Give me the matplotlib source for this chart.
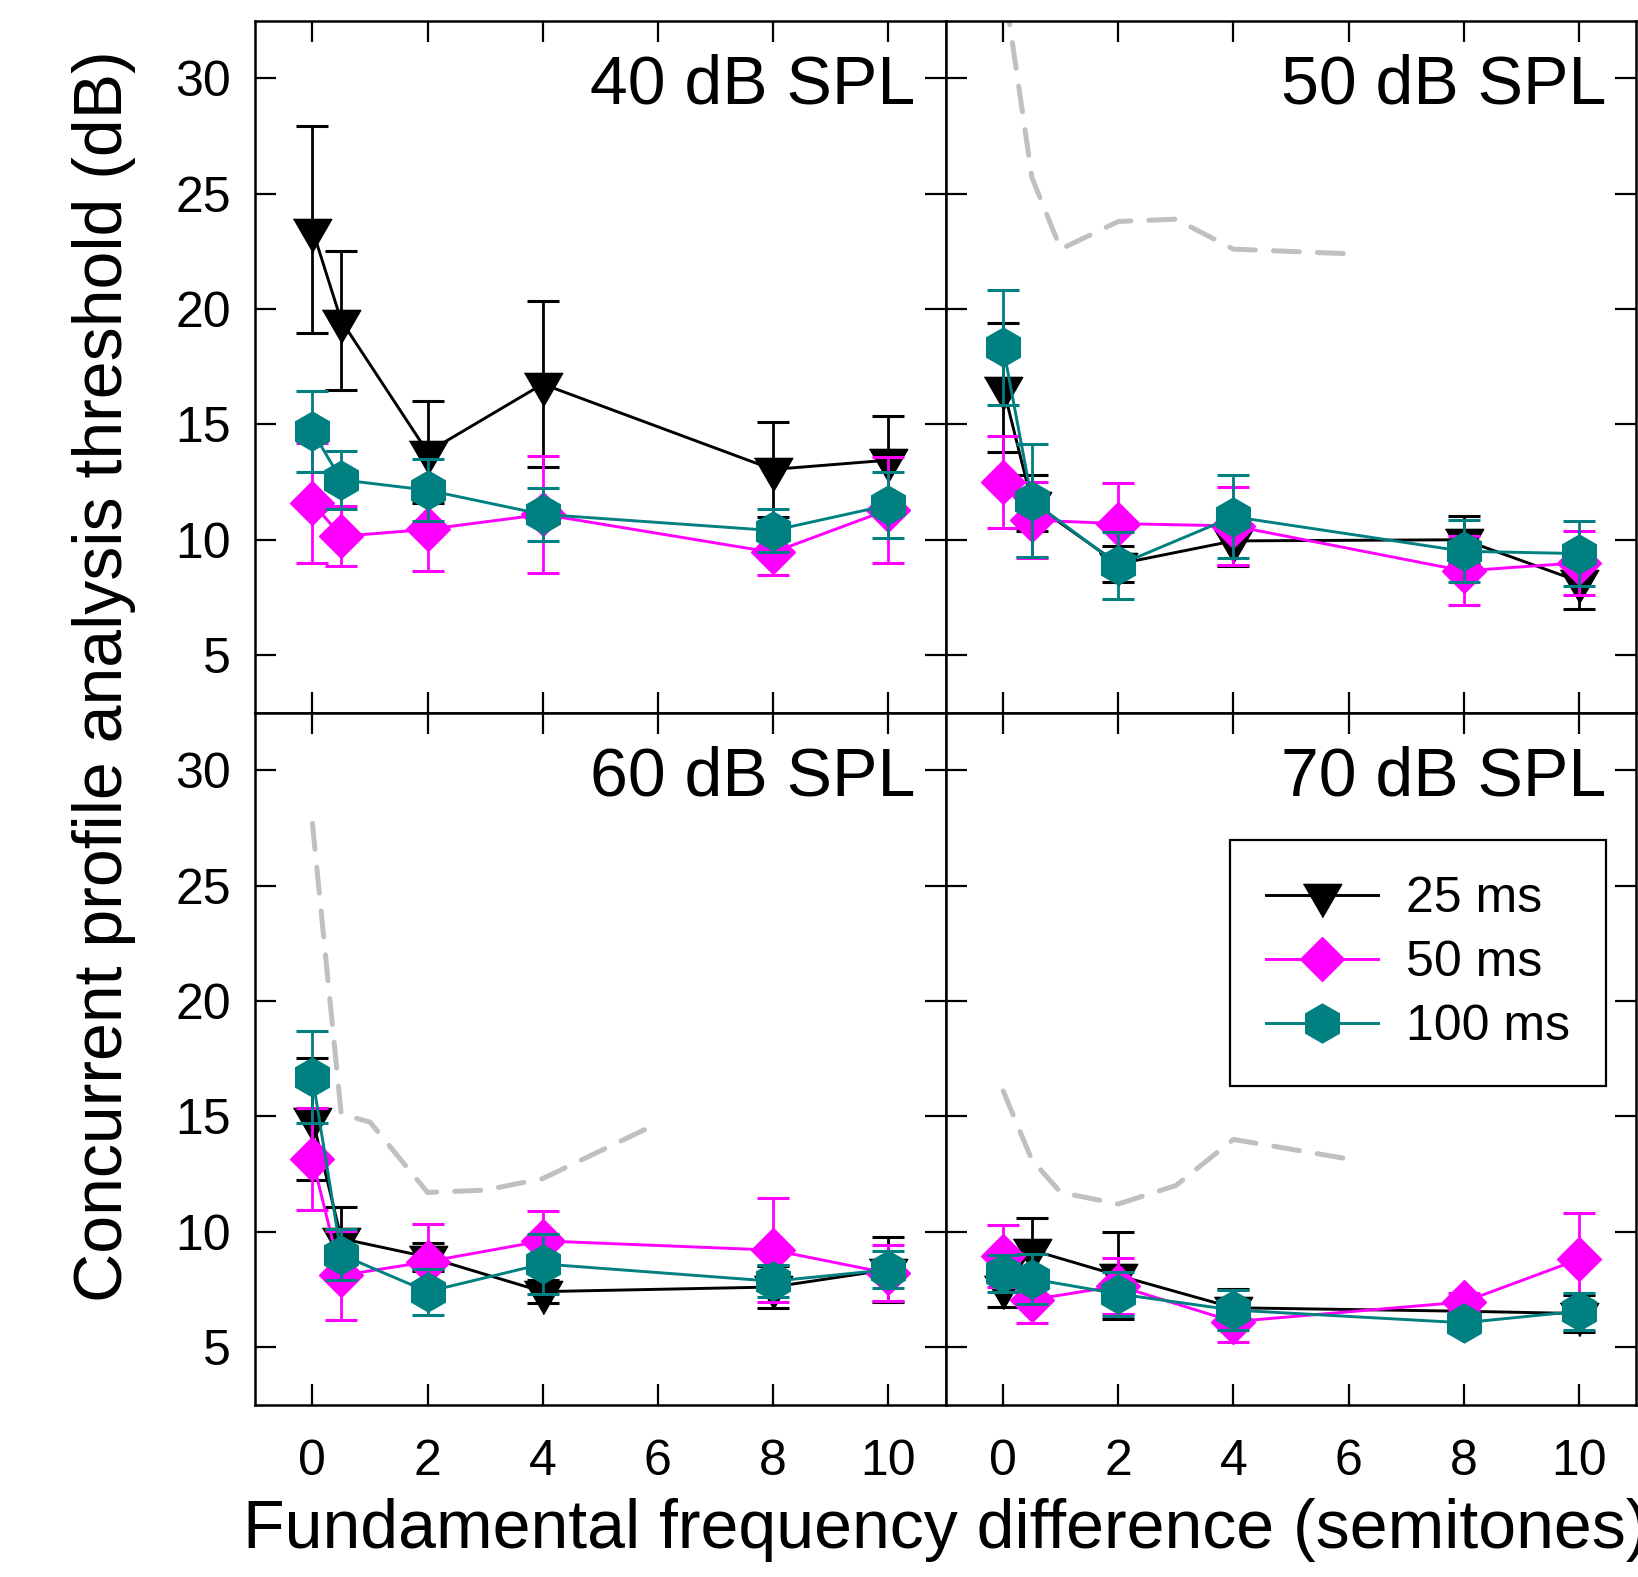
#!/usr/bin/env python3
"""Concurrent profile analysis thresholds vs F0 difference, 4 level panels."""

import matplotlib

matplotlib.use("Agg")
import matplotlib.pyplot as plt

plt.rcParams["font.family"] = ["Liberation Sans", "DejaVu Sans"]

F0_DIFF = [0, 0.5, 2, 4, 8, 10]
LEVELS = ["40 dB SPL", "50 dB SPL", "60 dB SPL", "70 dB SPL"]
DURATIONS = ["25 ms", "50 ms", "100 ms"]

# one row per level (40, 50, 60, 70 dB SPL)
MEAN_25 = [
    [23.45, 19.5, 13.8, 16.75, 13.05, 13.45],
    [16.6, 11.6, 8.95, 9.95, 10.0, 8.2],
    [14.9, 9.7, 8.9, 7.4, 7.6, 8.35],
    [7.6, 9.2, 8.1, 6.7, 6.55, 6.45],
]
ERR_25 = [
    [4.5, 3.0, 2.2, 3.6, 2.05, 1.9],
    [2.8, 1.2, 0.8, 1.1, 1.05, 1.2],
    [2.65, 1.35, 0.6, 0.5, 0.9, 1.4],
    [0.85, 1.4, 1.9, 0.8, 0.5, 0.8],
]
MEAN_50 = [
    [11.6, 10.15, 10.45, 11.1, 9.45, 11.3],
    [12.5, 10.85, 10.7, 10.6, 8.65, 9.0],
    [13.15, 8.1, 8.7, 9.6, 9.2, 8.2],
    [8.95, 7.05, 7.65, 6.1, 6.95, 8.8],
]
ERR_50 = [
    [2.6, 1.3, 1.8, 2.55, 1.0, 2.3],
    [2.0, 1.65, 1.75, 1.7, 1.5, 1.4],
    [2.2, 1.95, 1.65, 1.3, 2.25, 1.2],
    [1.35, 1.0, 1.2, 0.9, 0.4, 2.0],
]
MEAN_100 = [
    [14.7, 12.6, 12.15, 11.1, 10.4, 11.5],
    [18.35, 11.7, 8.9, 11.0, 9.5, 9.4],
    [16.7, 9.0, 7.4, 8.6, 7.85, 8.35],
    [8.2, 7.95, 7.3, 6.6, 6.05, 6.55],
]
ERR_100 = [
    [1.75, 1.25, 1.35, 1.15, 0.93, 1.42],
    [2.5, 2.45, 1.45, 1.8, 1.35, 1.4],
    [2.0, 1.1, 1.0, 1.3, 0.7, 0.8],
    [0.8, 1.1, 0.95, 0.85, 0.3, 0.8],
]

# grey dashed reference curves (none at 40 dB)
REF_X = [0, 0.5, 1, 2, 3, 4, 6]
REF_Y = [
    None,
    [34.3, 25.7, 22.6, 23.8, 23.9, 22.6, 22.4],
    [27.7, 15.1, 14.75, 11.7, 11.8, 12.3, 14.7],
    [16.1, 13.1, 11.7, 11.2, 12.0, 14.0, 13.15],
]

TRI = [(-1, 0.577), (1, 0.577), (0, -1.155)]  # equilateral, pointing down
SERIES = [
    (MEAN_25, ERR_25, dict(color="black", marker=TRI, ms=32)),
    (MEAN_50, ERR_50, dict(color="#ff00ff", marker="D", ms=22.5)),
    (MEAN_100, ERR_100, dict(color="#008080", marker="h", ms=28)),
]

LEFT = 0.1556
W = (0.999 - LEFT) / 2
BOTTOM = 0.1093
H = (0.9868 - BOTTOM) / 2
POS = [
    (LEFT, BOTTOM + H),
    (LEFT + W, BOTTOM + H),
    (LEFT, BOTTOM),
    (LEFT + W, BOTTOM),
]


def main():
    fig = plt.figure(figsize=(16.38, 15.77), dpi=100)
    fig.patch.set_facecolor("white")

    for p, (x0, y0) in enumerate(POS):
        ax = fig.add_axes([x0, y0, W, H])
        ax.set_xlim(-1, 11)
        ax.set_ylim(2.5, 32.5)
        ax.set_xticks([0, 2, 4, 6, 8, 10])
        ax.set_yticks([5, 10, 15, 20, 25, 30])
        for s in ax.spines.values():
            s.set_linewidth(1.8)
        ax.tick_params(direction="in", length=15, width=1.6, top=True,
                       right=True, labelsize=36)
        ax.tick_params(axis="x", pad=25, labelbottom=p >= 2)
        ax.tick_params(axis="y", pad=17, labelleft=p % 2 == 0)

        if REF_Y[p] is not None:
            ax.plot(REF_X, REF_Y[p], color="#c0c0c0", lw=3.6,
                    dashes=(5.2, 3.6), dash_capstyle="round", zorder=1)

        handles = []
        for k, (means, errs, st) in enumerate(SERIES):
            cont = ax.errorbar(
                F0_DIFF, means[p], yerr=errs[p],
                color=st["color"], marker=st["marker"], ms=st["ms"],
                mec=st["color"], mfc=st["color"], lw=2.1,
                elinewidth=2.0, capsize=11.5, capthick=2.2,
                zorder=3 + k,
            )
            handles.append(cont[0])

        ax.text(0.9566, 0.88, LEVELS[p], transform=ax.transAxes,
                ha="right", va="baseline", fontsize=49)

        if p == 3:
            leg = ax.legend(
                handles, DURATIONS, loc="upper left",
                bbox_to_anchor=(0.411, 0.816), borderaxespad=0,
                fontsize=36, frameon=True, fancybox=False, framealpha=1,
                edgecolor="black", handlelength=2.25, handletextpad=0.55,
                labelspacing=0.36, borderpad=0.72,
            )
            leg.get_frame().set_linewidth(1.6)
            leg.set_zorder(10)

    fig.text(0.0632, 0.571, "Concurrent profile analysis threshold (dB)",
             rotation=90, ha="center", va="center", fontsize=49)
    fig.text(0.5772, 0.0184, "Fundamental frequency difference (semitones)",
             ha="center", va="baseline", fontsize=49)

    fig.savefig("out.png", dpi=100, facecolor="white")
    plt.close(fig)


if __name__ == "__main__":
    main()
